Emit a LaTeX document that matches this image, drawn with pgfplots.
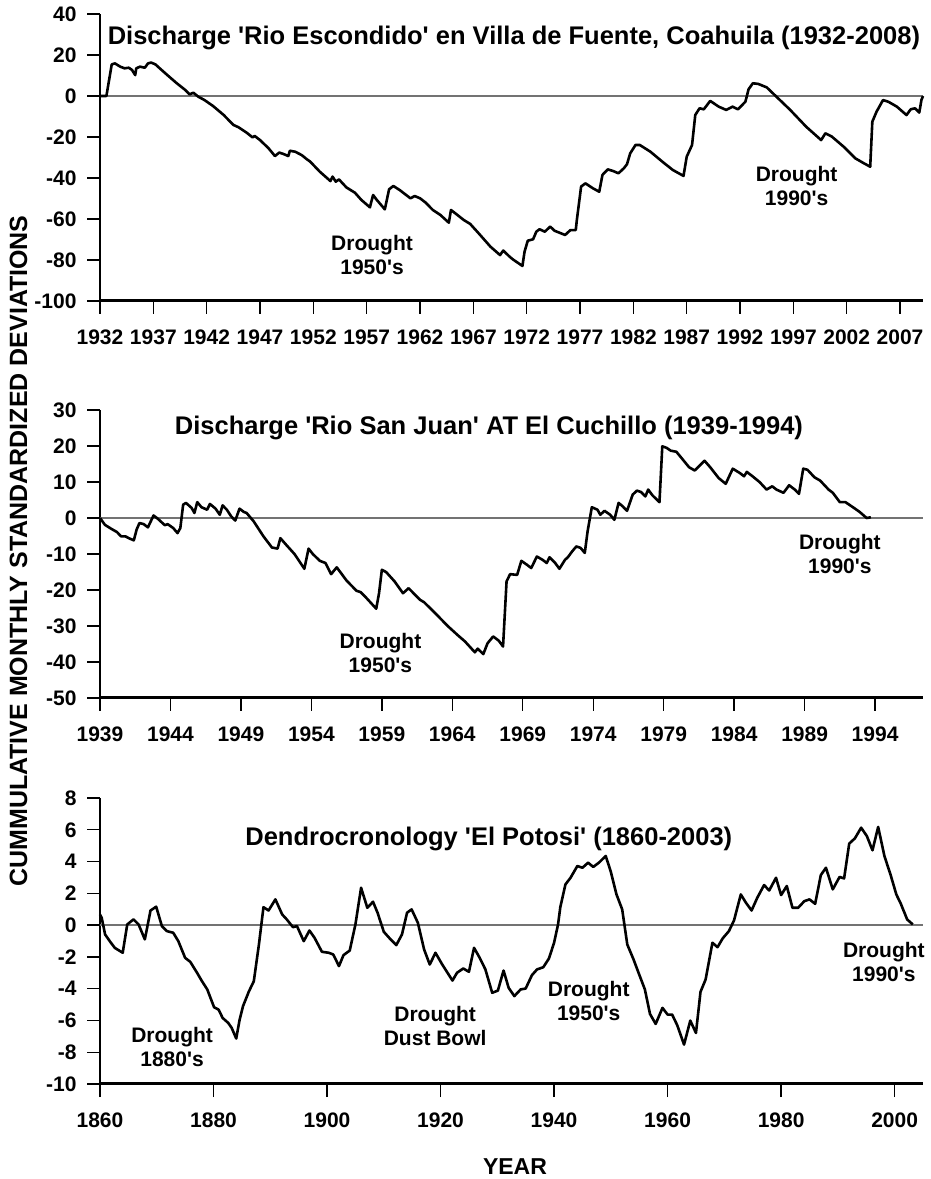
\documentclass[border=0pt]{standalone}
\usepackage{pgfplots}
\pgfplotsset{compat=1.18}
\usepackage{fontspec}
\setmainfont{Liberation Sans}[Ligatures=TeXOff]
\newcommand{\q}{\symbol{39}}
\newcommand{\lfont}{\bfseries\fontsize{21}{24}\selectfont}
\newcommand{\tfont}{\bfseries\fontsize{25.5}{28}\selectfont}
\tikzset{
  lab/.style={font=\lfont, align=center, inner sep=0pt},
  ttl/.style={font=\tfont, inner sep=0pt},
}
\pgfplotsset{
  panel/.style={
    scale only axis,
    anchor=south west,
    width=823pt,
    axis lines=left,
    axis line style={-},
    x axis line style={line width=3pt},
    y axis line style={line width=2.4pt},
    tick align=outside,
    major tick length=13pt,
    minor tick num=0,
    tick style={line width=1.4pt, black},
    tick label style={font=\lfont},
    xticklabel style={yshift=-12pt},
    yticklabel style={xshift=-7pt},
    /pgf/number format/assume math mode=true,
    /pgf/number format/1000 sep={},
    clip=false,
  },
  zeroline/.style={black!55, line width=2.4pt},
  curve/.style={black, line width=2.6pt, line join=round},
}
\begin{document}
\begin{tikzpicture}
\useasboundingbox (0pt,0pt) rectangle (931pt,1179pt);
% ---------------- Panel 1 ----------------
\begin{axis}[panel, at={(100pt,878pt)}, height=287pt,
  xmin=1932, xmax=2009.15, ymin=-100, ymax=40,
  xtick={1932,1937,...,2007}, ytick={-100,-80,...,40}]
\addplot[zeroline] coordinates {(1932,0) (2009.15,0)};
\addplot[curve] coordinates {
(1932.0,0) (1932.6,0) (1933.1,15.4) (1933.4,15.9) (1933.9,14.3) (1934.3,13.5) (1934.7,13.8) (1935.0,12.7) (1935.3,10.2) (1935.4,13.5) (1935.75,14.3) (1936.2,13.8) (1936.5,15.9) (1936.8,16.3) (1937.2,15.4) (1937.6,13.5) (1938.4,9.8) (1939.2,6.2) (1940.0,2.9) (1940.4,0.8) (1940.75,1.6) (1941.2,-0.3) (1941.8,-2.0) (1942.6,-4.9) (1943.6,-9.3) (1944.5,-14.1) (1945.0,-15.3) (1945.75,-17.9) (1946.3,-20.2) (1946.5,-19.5) (1947.0,-21.5) (1947.8,-25.5) (1948.4,-29.3) (1948.8,-27.6) (1949.2,-28.3) (1949.65,-29.3) (1949.8,-26.7) (1950.3,-27.2) (1950.9,-28.8) (1951.4,-30.9) (1951.7,-32.0) (1952.6,-36.9) (1953.6,-41.5) (1953.8,-39.3) (1954.1,-41.8) (1954.4,-40.7) (1955.1,-44.6) (1955.9,-47.2) (1956.5,-50.7) (1957.3,-54.3) (1957.6,-48.3) (1957.9,-50.4) (1958.7,-55.3) (1959.1,-45.5) (1959.5,-43.9) (1960.1,-45.9) (1960.7,-48.3) (1961.1,-49.9) (1961.5,-48.8) (1962.0,-49.9) (1962.5,-51.9) (1963.2,-55.6) (1963.9,-58.0) (1964.7,-61.8) (1964.9,-55.6) (1965.3,-57.2) (1966.1,-60.5) (1966.7,-62.4) (1967.5,-67.0) (1968.6,-73.5) (1969.5,-77.6) (1969.8,-75.4) (1970.4,-78.4)
(1970.7,-79.7) (1971.6,-82.9) (1971.8,-75.9) (1972.1,-70.6) (1972.6,-69.9) (1972.9,-66.2) (1973.2,-65.0) (1973.7,-66.2) (1974.2,-63.7) (1974.6,-65.7) (1975.6,-67.8) (1976.1,-65.4) (1976.6,-65.4) (1976.7,-60.5) (1977.1,-44.2) (1977.5,-42.6) (1978.2,-45.0) (1978.8,-46.7) (1979.1,-38.5) (1979.6,-35.8) (1980.1,-36.6) (1980.6,-37.7) (1981.1,-35.3) (1981.4,-33.3) (1981.7,-28.0) (1982.2,-23.9) (1982.6,-23.9) (1983.6,-27.2) (1984.8,-32.4) (1985.7,-36.1) (1986.7,-39.0) (1987.0,-29.6) (1987.5,-23.9) (1987.8,-9.3) (1988.2,-6.0) (1988.6,-6.5) (1989.2,-2.4) (1990.0,-5.2) (1990.7,-6.8) (1991.3,-5.2) (1991.8,-6.5) (1992.5,-2.8) (1992.8,3.3) (1993.2,6.2) (1993.7,5.9) (1994.5,4.2) (1995.4,-0.3) (1996.7,-6.8) (1998.2,-15.0) (1999.6,-21.5) (2000.0,-18.2) (2000.6,-19.8) (2001.7,-24.7) (2002.8,-30.4) (2003.6,-32.8) (2004.2,-34.5) (2004.4,-12.5) (2004.8,-7.6) (2005.4,-2.0) (2005.9,-2.8) (2006.7,-5.2) (2007.6,-9.3) (2008.0,-6.5) (2008.4,-6.0) (2008.8,-8.1) (2009.0,-2.0) (2009.15,0)
};
\node[ttl] at (axis cs:1970.8,28.3) {Discharge \q Rio Escondido\q{} en Villa de Fuente, Coahuila (1932-2008)};
\node[lab] at (axis cs:1957.5,-77.6) {Drought\\1950\q s};
\node[lab] at (axis cs:1997.3,-44.1) {Drought\\1990\q s};
\end{axis}
% ---------------- Panel 2 ----------------
\begin{axis}[panel, at={(100pt,481pt)}, height=288pt,
  xmin=1939, xmax=1997.4, ymin=-50, ymax=30,
  xtick={1939,1944,...,1994}, ytick={-50,-40,...,30}]
\addplot[zeroline] coordinates {(1939,0) (1997.4,0)};
\addplot[curve] coordinates {
(1939.0,0) (1939.35,-1.9) (1939.8,-3.0) (1940.2,-3.9) (1940.5,-5.1) (1940.8,-5.1) (1941.1,-5.7) (1941.4,-6.2) (1941.6,-3.2) (1941.8,-1.4) (1942.1,-1.7) (1942.4,-2.6) (1942.8,0.7) (1943.1,-0.2) (1943.6,-2.0) (1943.8,-1.7) (1944.2,-2.8) (1944.5,-4.2) (1944.7,-2.8) (1944.9,3.7) (1945.1,4.2) (1945.5,2.8) (1945.7,1.4) (1945.9,4.4) (1946.2,3.0) (1946.6,2.3) (1946.8,3.9) (1947.2,2.6) (1947.5,0.9) (1947.7,3.5) (1948.0,2.3) (1948.3,0.5) (1948.6,-0.7) (1948.9,2.6) (1949.2,1.7) (1949.4,1.4) (1949.9,-0.9) (1950.6,-5.1) (1951.2,-8.2) (1951.6,-8.5) (1951.8,-5.6) (1952.2,-7.4) (1952.8,-10.0) (1953.5,-14.1) (1953.8,-8.5) (1954.1,-10.0) (1954.6,-11.9) (1955.0,-12.5) (1955.4,-15.6) (1955.8,-13.7) (1956.5,-17.4) (1957.2,-20.2) (1957.5,-20.6) (1957.9,-22.2) (1958.6,-25.2) (1958.8,-20.9) (1959.0,-14.4) (1959.3,-15.0) (1959.9,-17.6) (1960.5,-20.9) (1960.9,-19.5) (1961.7,-22.7) (1962.0,-23.4) (1962.9,-26.9) (1963.7,-30.1) (1964.4,-32.6) (1964.9,-34.3) (1965.6,-37.3) (1965.8,-36.3) (1966.2,-37.8) (1966.5,-34.8) (1966.9,-32.9) (1967.3,-34.1) (1967.6,-35.7) (1967.85,-17.6) (1968.1,-15.6) (1968.6,-15.8) (1968.9,-11.9) (1969.3,-13.0) (1969.6,-13.9) (1970.0,-10.7) (1970.4,-11.6) (1970.7,-12.5) (1970.9,-10.9) (1971.3,-12.5) (1971.6,-14.1) (1972.0,-11.6) (1972.2,-10.9) (1972.5,-9.3) (1972.8,-7.9) (1973.1,-8.3) (1973.4,-9.7) (1973.6,-3.7) (1973.9,3.0) (1974.3,2.3) (1974.5,0.9) (1974.8,2.0) (1975.2,0.9) (1975.5,-0.5) (1975.8,4.2) (1976.1,3.2) (1976.4,2.0) (1976.8,6.5) (1977.1,7.6) (1977.4,7.2) (1977.7,6.0) (1977.9,7.9) (1978.2,6.3) (1978.7,4.4) (1978.9,19.9) (1979.2,19.5) (1979.5,18.7) (1979.9,18.4) (1980.3,16.5) (1980.8,14.1) (1981.2,13.2) (1981.9,15.9) (1982.3,14.1) (1982.9,11.1) (1983.4,9.5) (1983.9,13.7) (1984.4,12.5) (1984.7,11.6) (1984.9,12.8) (1985.3,11.6) (1985.8,10.0) (1986.3,7.9) (1986.7,8.8) (1987.0,7.9) (1987.5,7.0) (1987.9,9.1) (1988.3,7.9) (1988.6,6.7) (1988.9,13.7) (1989.2,13.4) (1989.7,11.3) (1990.1,10.4) (1990.7,7.9) (1991.0,7.0) (1991.5,4.4) (1991.9,4.4) (1992.5,2.8) (1992.9,1.7) (1993.4,0) (1993.7,0.2)
};
\node[ttl] at (axis cs:1966.6,25.1) {Discharge \q Rio San Juan\q{} AT El Cuchillo (1939-1994)};
\node[lab] at (axis cs:1958.9,-37.6) {Drought\\1950\q s};
\node[lab] at (axis cs:1991.5,-10.1) {Drought\\1990\q s};
\end{axis}
% ---------------- Panel 3 ----------------
\begin{axis}[panel, at={(100pt,95pt)}, height=286pt,
  xmin=1860, xmax=2005.0, ymin=-10, ymax=8,
  xtick={1860,1880,...,2000}, ytick={-10,-8,...,8}]
\addplot[zeroline] coordinates {(1860,0) (2005.0,0)};
\addplot[curve] coordinates {
(1860.0,0.67) (1860.3,0.46) (1860.9,-0.59) (1861.8,-1.05) (1862.6,-1.43) (1864.0,-1.74) (1864.8,0.04) (1865.9,0.36) (1866.8,0.04) (1867.9,-0.90) (1868.9,0.92) (1869.9,1.16) (1870.9,-0.06) (1871.8,-0.38) (1872.9,-0.48) (1873.8,-1.01) (1875.0,-2.06) (1875.9,-2.31) (1877.1,-3.0) (1877.9,-3.49) (1878.9,-4.05) (1880.1,-5.17) (1880.9,-5.32) (1881.6,-5.84) (1882.6,-6.16) (1883.2,-6.47) (1884.0,-7.14) (1884.6,-5.95) (1885.2,-5.10) (1886.2,-4.20) (1887.1,-3.53) (1888.0,-1.22) (1888.8,1.13) (1889.7,0.92) (1890.9,1.62) (1892.1,0.67) (1892.9,0.36) (1894.0,-0.13) (1894.7,-0.06) (1895.9,-1.01) (1896.9,-0.34) (1897.8,-0.80) (1899.1,-1.68) (1900.3,-1.74) (1901.1,-1.85) (1902.1,-2.58) (1902.9,-1.89) (1904.0,-1.60) (1905.0,0.04) (1906.0,2.35) (1907.1,1.09) (1908.1,1.47) (1908.9,0.78) (1910.0,-0.42) (1911.2,-0.90) (1912.2,-1.26) (1913.2,-0.59) (1914.1,0.78) (1914.9,0.99) (1916.0,0.15) (1917.1,-1.53) (1918.1,-2.48) (1919.1,-1.74) (1920.3,-2.48) (1922.1,-3.49) (1922.9,-3.0) (1924.0,-2.73) (1925.0,-2.94) (1925.9,-1.43) (1926.9,-2.06) (1927.9,-2.79) (1929.1,-4.26) (1930.1,-4.12) (1931.1,-2.86) (1932.0,-3.95) (1933.0,-4.47) (1934.1,-4.05) (1935.0,-3.99) (1936.1,-3.15) (1937.0,-2.79) (1938.1,-2.65) (1939.1,-2.1) (1940.0,-1.11) (1940.7,0.04) (1941.1,1.13) (1942.0,2.56) (1942.9,2.98) (1944.1,3.72) (1945.0,3.61) (1946.0,3.93) (1946.9,3.66) (1947.9,3.93) (1949.1,4.35) (1950.0,3.36) (1951.0,1.93) (1952.0,0.99) (1952.9,-1.22) (1954.0,-2.16) (1955.0,-3.11) (1956.0,-4.05) (1956.9,-5.59) (1957.9,-6.22) (1959.1,-5.21) (1960.0,-5.63) (1960.8,-5.63) (1961.7,-6.30) (1962.9,-7.52) (1964.0,-6.01) (1965.0,-6.79) (1965.8,-4.20) (1966.7,-3.42) (1967.9,-1.11) (1968.8,-1.39) (1969.7,-0.84) (1970.8,-0.38) (1971.7,0.29) (1972.9,1.93) (1973.8,1.41) (1974.8,0.92) (1975.8,1.72) (1977.0,2.52) (1977.9,2.18) (1979.1,2.98) (1980.0,1.89) (1981.0,2.46) (1982.0,1.09) (1983.0,1.09) (1984.1,1.51) (1985.0,1.62) (1986.0,1.34) (1987.0,3.15) (1987.9,3.61) (1989.1,2.25) (1990.3,3.03) (1991.1,2.94) (1992.0,5.13) (1993.0,5.46) (1994.1,6.13) (1995.1,5.61) (1996.1,4.71) (1997.1,6.18) (1998.2,4.35) (1999.3,3.15) (2000.3,1.93) (2001.1,1.34) (2002.2,0.36) (2003.2,0.04)
};
\node[ttl] at (axis cs:1928.5,5.4) {Dendrocronology \q El Potosi\q{} (1860-2003)};
\node[lab] at (axis cs:1872.7,-7.67) {Drought\\1880\q s};
\node[lab] at (axis cs:1919.05,-6.32) {Drought\\Dust Bowl};
\node[lab] at (axis cs:1946.1,-4.78) {Drought\\1950\q s};
\node[lab] at (axis cs:1998.1,-2.32) {Drought\\1990\q s};
\end{axis}
\node[font=\bfseries\fontsize{25}{28}\selectfont, rotate=90, inner sep=0pt] at (18.5pt,628pt) {CUMMULATIVE MONTHLY STANDARDIZED DEVIATIONS};
\node[font=\bfseries\fontsize{23}{26}\selectfont, inner sep=0pt] at (515pt,12pt) {YEAR};
\end{tikzpicture}
\end{document}
